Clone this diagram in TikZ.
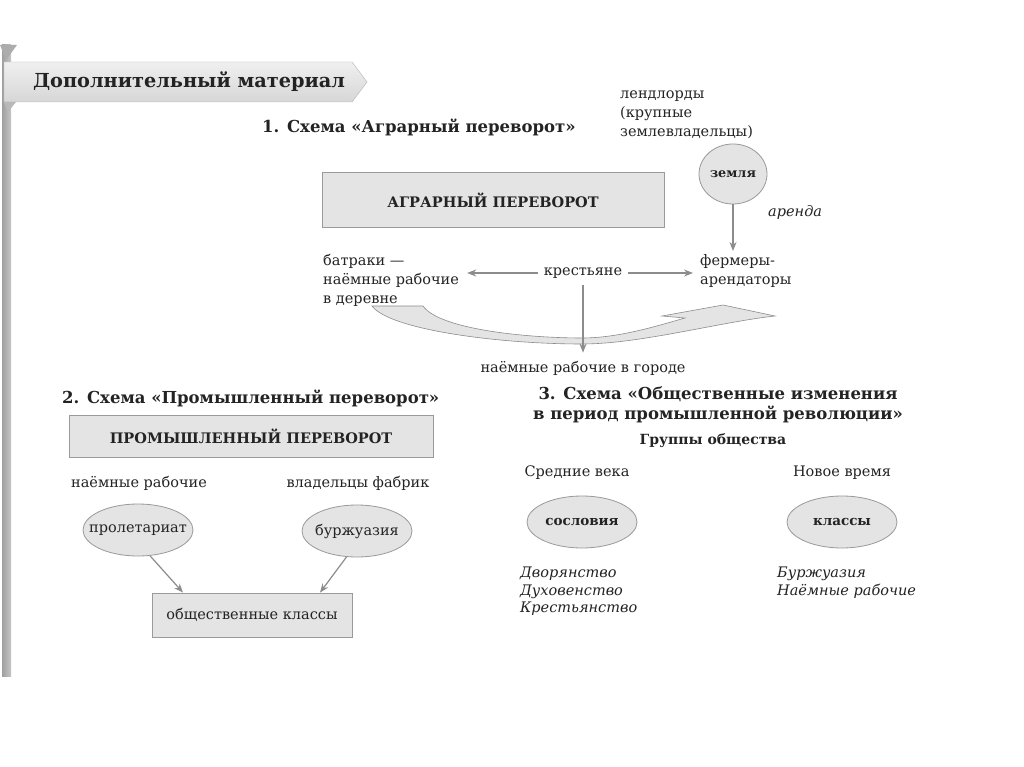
\documentclass[tikz,border=0pt]{standalone}
\usepackage{fontspec}
\setmainfont{DejaVu Serif}
\usetikzlibrary{arrows.meta,shapes.geometric}

\definecolor{boxfill}{HTML}{E4E4E4}
\definecolor{boxline}{HTML}{9A9A9A}
\definecolor{arrowgray}{HTML}{8C8C8C}
\definecolor{inkgray}{HTML}{232323}

\begin{document}
\begin{tikzpicture}[
    x=1pt, y=-1pt,
    every node/.style={text=inkgray, inner sep=0pt},
    plate/.style={draw=boxline, fill=boxfill, line width=0.8pt, align=center},
    oval/.style={ellipse, draw=boxline, fill=boxfill, line width=0.8pt,
        minimum width=110pt, minimum height=52pt},
    heading/.style={font=\fontsize{16.5}{20}\selectfont\bfseries},
    platetext/.style={font=\fontsize{14.5}{17}\selectfont\bfseries},
    note/.style={font=\fontsize{14.5}{19}\selectfont, align=left},
    listtext/.style={font=\fontsize{14.5}{17.5}\selectfont\itshape, align=left},
    link/.style={draw=arrowgray, line width=1.2pt, -{Stealth[length=9pt,width=7pt]}}
]
\fill[white] (0,0) rectangle (1024,767);
\useasboundingbox (0,0) rectangle (1024,767);

% banner with pole
\shade[left color=gray!75, right color=gray!45] (2,45) rectangle (11,676);
\fill[gray!65] (0,45) -- (17,45) -- (6,60) -- cycle;
\shade[top color=gray!12, bottom color=gray!32, draw=gray!60]
    (4,62) -- (352,62) -- (367,82) -- (352,102) -- (4,102) -- cycle;
\fill[gray!55] (4,102) -- (16,102) -- (8,112) -- cycle;
\node[font=\fontsize{19.3}{22}\selectfont\bfseries] (banner) at (189,82) {Дополнительный материал};

% 1. agrarian revolution
\node[heading, anchor=west] (title1) at (262,127) {1. Схема «Аграрный переворот»};
\node[plate, platetext, minimum width=342pt, minimum height=55pt] (agrar) at (493,200) {АГРАРНЫЙ ПЕРЕВОРОТ};
\node[note, anchor=north west] (lords) at (620,91) {лендлорды\\(крупные\\землевладельцы)};
\node[oval, minimum width=68pt, minimum height=60pt, font=\fontsize{12.8}{14}\selectfont\bfseries] (land) at (733,174) {земля};
\node[listtext, anchor=west] (rent) at (768,213) {аренда};
\node[note, anchor=north west] (batraki) at (323,254) {батраки —\\наёмные рабочие\\в деревне};
\node[note, inner sep=6pt] (peasants) at (583,273) {крестьяне};
\node[note, anchor=north west] (farmers) at (700,254) {фермеры-\\арендаторы};
\node[note] (cityworkers) at (583,368) {наёмные рабочие в городе};

\filldraw[fill=boxfill, draw=arrowgray, line width=0.6pt]
    (372,306) -- (423,306) .. controls (440,330) and (530,338) .. (582,338)
    .. controls (620,338) and (660,325) .. (685,318) -- (662,316) -- (723,305) -- (775,316)
    .. controls (720,322) and (640,344) .. (582,344)
    .. controls (500,344) and (390,330) .. (372,306) -- cycle;

\draw[link] (land.south) -- ([yshift=3pt]land.south |- farmers.north);
\draw[link] (peasants.west) -- ([xshift=8pt]batraki.east |- peasants.west);
\draw[link] (peasants.east) -- ([xshift=-7pt]farmers.west |- peasants.east);
\draw[link] (peasants.south) -- ([yshift=8pt]peasants.south |- cityworkers.north);

% 2. industrial revolution
\node[heading, anchor=west] (title2) at (62,398) {2. Схема «Промышленный переворот»};
\node[plate, platetext, minimum width=364pt, minimum height=42pt] (industry) at (251,436) {ПРОМЫШЛЕННЫЙ ПЕРЕВОРОТ};
\node[note] (hired) at (139,483) {наёмные рабочие};
\node[note] (owners) at (358,483) {владельцы фабрик};
\node[oval, note, inner xsep=-10pt] (prolet) at (138,530) {пролетариат};
\node[oval, note, inner xsep=-4pt] (bourg) at (357,531) {буржуазия};
\node[plate, note, minimum width=200pt, minimum height=44pt] (classes) at (252,615) {общественные классы};

\draw[link] (prolet.-65) -- ([xshift=-69pt]classes.north);
\draw[link] (bourg.-112) -- ([xshift=68pt]classes.north);

% 3. social changes
\node[heading, align=center] (title3) at (718,405) {3. Схема «Общественные изменения\\в период промышленной революции»};
\node[font=\fontsize{14}{16}\selectfont\bfseries] (groups) at (713,441) {Группы общества};
\node[note] (middle) at (577,473) {Средние века};
\node[note] (modern) at (842,473) {Новое время};
\node[oval, font=\fontsize{13.5}{15}\selectfont\bfseries] (estates) at (582,522) {сословия};
\node[oval, font=\fontsize{13.5}{15}\selectfont\bfseries] (classes3) at (842,522) {классы};
\node[listtext, anchor=north west] (estlist) at (520,567) {Дворянство\\Духовенство\\Крестьянство};
\node[listtext, anchor=north west] (classlist) at (777,567) {Буржуазия\\Наёмные рабочие};
\end{tikzpicture}
\end{document}
